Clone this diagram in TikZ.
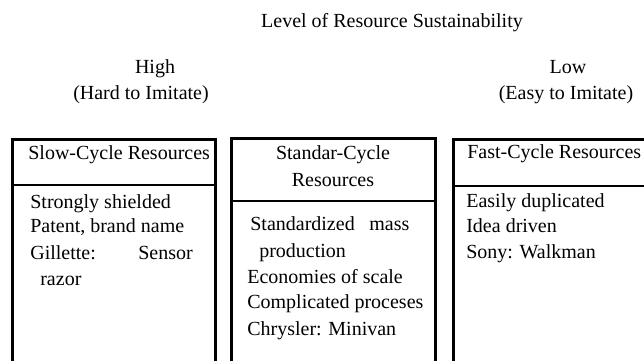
\documentclass[tikz,border=0pt]{standalone}
\usepackage{fontspec}
\setmainfont{Liberation Serif}
\usetikzlibrary{positioning}

\begin{document}
\begin{tikzpicture}
      [
      x=0.6pt, y=-0.6pt,
      txt/.style={inner sep=0pt,anchor=base,font=\fontsize{12}{15}\selectfont},
      lefttxt/.style={txt,anchor=base west},
      frame/.style={line width=1.8pt},
      split/.style={line width=1.3pt}
      ]
      \useasboundingbox (0,0) rectangle (644,361);
      \node (title) at (392,28) [txt] {Level of Resource Sustainability};
      \node (high) at (155,74) [txt] {High};
      \node (hard) at (141,100) [txt] {(Hard to Imitate)};
      \node (low) at (568,74) [txt] {Low};
      \node (easy) at (566,100) [txt] {(Easy to Imitate)};
      \draw [frame] (12,140) rectangle (215,370);
      \draw [split] (12,185) -- (215,185);
      \draw [frame] (231,139) rectangle (435,370);
      \draw [split] (231,201) -- (435,201);
      \draw [frame] (453,140) rectangle (660,370);
      \draw [split] (453,186) -- (660,186);
      \node (slowhead) at (28,160) [lefttxt] {Slow-Cycle Resources};
      \node (slow1) at (30,209) [lefttxt] {Strongly shielded};
      \node (slow2) at (30,233) [lefttxt] {Patent, brand name};
      \node (slow3) at (30,260) [lefttxt] {Gillette:};
      \node (slow3b) at (138,260) [lefttxt] {Sensor};
      \node (slow4) at (40,286) [lefttxt] {razor};
      \node (stdhead) at (333,160) [txt] {Standar-Cycle};
      \node (stdhead2) at (333,187) [txt] {Resources};
      \node (std1) at (250,231) [lefttxt] {Standardized};
      \node (std1b) at (369,231) [lefttxt] {mass};
      \node (std2) at (259,258) [lefttxt] {production};
      \node (std3) at (247,284) [lefttxt] {Economies of scale};
      \node (std4) at (247,309) [lefttxt] {Complicated proceses};
      \node (std5) at (247,335) [lefttxt] {Chrysler: Minivan};
      \node (fasthead) at (467,159) [lefttxt] {Fast-Cycle Resources};
      \node (fast1) at (466,208) [lefttxt] {Easily duplicated};
      \node (fast2) at (466,233) [lefttxt] {Idea driven};
      \node (fast3) at (466,259) [lefttxt] {Sony: Walkman};
    \end{tikzpicture}
\end{document}
